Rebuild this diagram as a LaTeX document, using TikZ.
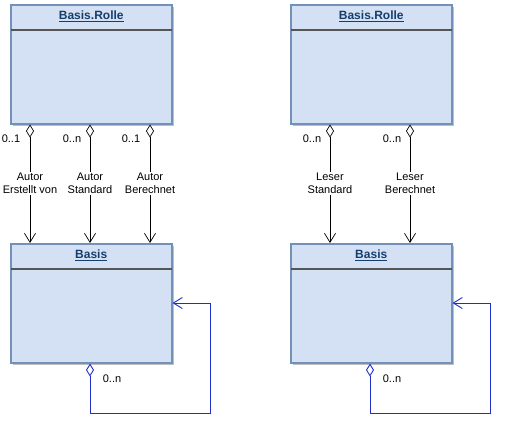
\documentclass[tikz,border=0pt]{standalone}
\usepackage{fontspec}
\setmainfont{Liberation Sans}
\usetikzlibrary{arrows.meta,shadows,calc}
\definecolor{boxfill}{HTML}{D4E1F5}
\definecolor{boxline}{HTML}{7391B6}
\definecolor{titlecol}{HTML}{163E6D}
\definecolor{sepcol}{HTML}{555555}
\definecolor{loopcol}{HTML}{1F2FCC}
\begin{document}
\begin{tikzpicture}[x=1pt,y=-1pt,
  classbox/.style={draw=boxline, line width=1.5pt, fill=boxfill, minimum width=161pt, minimum height=119pt, anchor=north west, inner sep=0pt, drop shadow={shadow xshift=2pt, shadow yshift=-2pt, opacity=0.25, fill=black}},
  ctitle/.style={font=\bfseries\fontsize{12}{14}\selectfont, text=titlecol},
  sepline/.style={draw=sepcol, line width=1.2pt},
  assoc/.style={draw=black, line width=0.7pt, {Diamond[open,length=13pt,width=8pt]}-{Straight Barb[length=9pt,width=11pt]}},
  selfassoc/.style={draw=loopcol, line width=0.9pt, {Diamond[open,length=13pt,width=8pt]}-{Straight Barb[length=9pt,width=11pt]}},
  lbl/.style={fill=white, align=center, inner sep=1pt, font=\fontsize{11}{13}\selectfont},
  mult/.style={font=\fontsize{11}{13}\selectfont, inner sep=0pt}]
\useasboundingbox (0,0) rectangle (509,432);

% boxes
\node[classbox] (rL) at (10,4) {};
\node[classbox] (bL) at (10,243) {};
\node[classbox] (rR) at (290,4) {};
\node[classbox] (bR) at (290,243) {};

\foreach \b/\t in {rL/Basis.Rolle, bL/Basis, rR/Basis.Rolle, bR/Basis}{
  \draw[sepline] ($(\b.north west)+(0.75,26)$) -- ($(\b.north east)+(-0.75,26)$);
  \node[ctitle] (t\b) at ($(\b.north)+(0,12)$) {\underline{\t}};
}

% left associations
\draw[assoc] (rL.south -| 30,0) -- node[lbl] (a1) {Autor\\Erstellt von} (bL.north -| 30,0);
\draw[assoc] (rL.south -| 90,0) -- node[lbl] (a2) {Autor\\Standard} (bL.north -| 90,0);
\draw[assoc] (rL.south -| 150,0) -- node[lbl] (a3) {Autor\\Berechnet} (bL.north -| 150,0);
\node[mult] (m1) at ($(rL.south -| 30,0)+(-19,14)$) {0..1};
\node[mult] (m2) at ($(rL.south -| 90,0)+(-18,14)$) {0..n};
\node[mult] (m3) at ($(rL.south -| 150,0)+(-19,14)$) {0..1};

% right associations
\draw[assoc] (rR.south -| 330,0) -- node[lbl] (a4) {Leser\\Standard} (bR.north -| 330,0);
\draw[assoc] (rR.south -| 410,0) -- node[lbl] (a5) {Leser\\Berechnet} (bR.north -| 410,0);
\node[mult] (m4) at ($(rR.south -| 330,0)+(-18,14)$) {0..n};
\node[mult] (m5) at ($(rR.south -| 410,0)+(-18,14)$) {0..n};

% self associations
\draw[selfassoc] (bL.south -| 90,0) -- (90,413) -- (210,413) -- (210,303) -- (bL.east |- 0,303);
\node[mult] (m6) at ($(bL.south -| 90,0)+(22,15)$) {0..n};
\draw[selfassoc] (bR.south -| 370,0) -- (370,413) -- (490,413) -- (490,303) -- (bR.east |- 0,303);
\node[mult] (m7) at ($(bR.south -| 370,0)+(22,15)$) {0..n};
\end{tikzpicture}
\end{document}
